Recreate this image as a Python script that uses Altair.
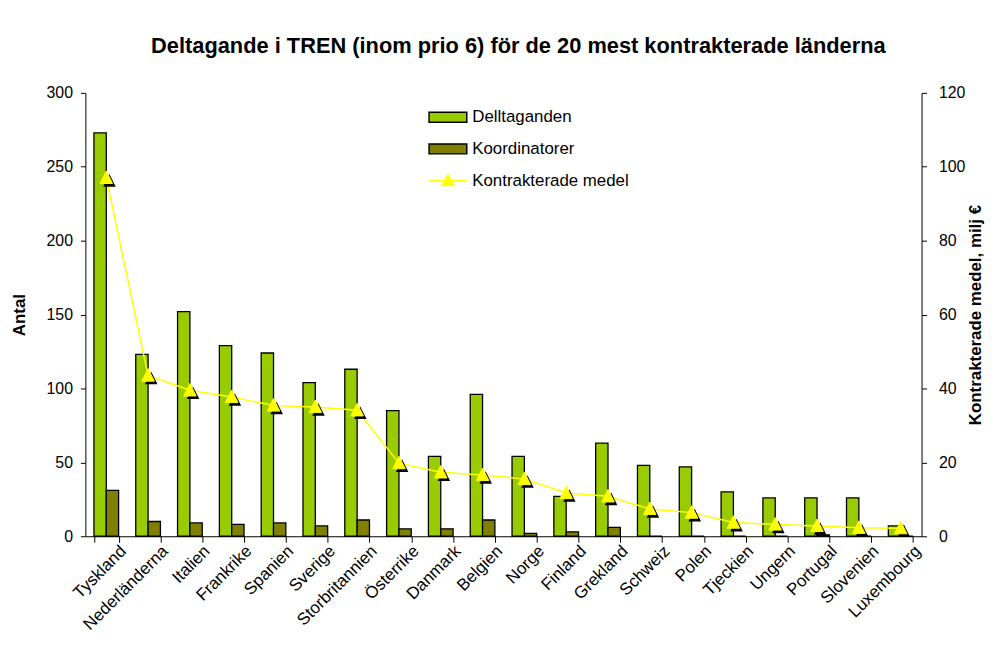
import altair as alt
import pandas as pd

countries = ["Tyskland", "Nederländerna", "Italien", "Frankrike", "Spanien", "Sverige",
             "Storbritannien", "Österrike", "Danmark", "Belgien", "Norge", "Finland",
             "Grekland", "Schweiz", "Polen", "Tjeckien", "Ungern", "Portugal",
             "Slovenien", "Luxembourg"]
deltaganden = [273, 123, 152, 129, 124, 104, 113, 85, 54, 96, 54, 27, 63, 48, 47, 30, 26, 26, 26, 7]
koordinatorer = [31, 10, 9, 8, 9, 7, 11, 5, 5, 11, 2, 3, 6, 0, 0, 0, 0, 1, 0, 0]
medel = [97, 43.5, 39.5, 37.7, 35.4, 35, 34.1, 19.8, 17.3, 16.6, 15.5, 11.7, 10.8, 7.4, 6.4,
         3.7, 3.2, 2.8, 2.3, 2.2]

series_names = ["Delltaganden", "Koordinatorer", "Kontrakterade medel"]
series_fill = ["#99CC00", "#808000", "#FFFF00"]
series_stroke = ["#000000", "#000000", "#FFFF00"]
left_ticks = [0, 50, 100, 150, 200, 250, 300]
right_ticks = [0, 20, 40, 60, 80, 100, 120]

FONT = "Liberation Sans"

bars_df = pd.DataFrame({
    "land": countries * 2,
    "serie": [series_names[0]] * len(countries) + [series_names[1]] * len(countries),
    "antal": deltaganden + koordinatorer,
})
line_df = pd.DataFrame({"land": countries, "medel": medel})
legend_df = pd.DataFrame({"serie": series_names})

RECT = "M-1,-1H6.6V1H-1Z"
LINE_TRI = "M-1,0H6.6M1.6,1L2.8,-1.2L4,1Z"
TRI = "M-1,0.9L0,-1.1L1,0.9Z"
SHADOW = "M-0.5,1.4L0.5,-0.6L1.5,1.4Z"

x_enc = alt.X(
    "land:N", sort=countries, title=None,
    scale=alt.Scale(paddingInner=0.41, paddingOuter=0.205),
    axis=alt.Axis(labelAngle=-45, labelAlign="right", labelBaseline="middle",
                  tickBand="extent", tickSize=6, labelPadding=6, labelOffset=17,
                  labelFontSize=17, labelFont=FONT),
)

fill_scale = alt.Scale(domain=series_names, range=series_fill)

leg = alt.Legend(title=None, orient="none", legendX=343, legendY=16,
                 symbolSize=100, symbolStrokeWidth=1.5, symbolOpacity=1,
                 labelFontSize=17, labelFont=FONT, labelOffset=30, rowPadding=14,
                 labelColor="black")

bars = alt.Chart(bars_df).mark_bar(stroke="black", strokeWidth=1.3).encode(
    x=x_enc,
    xOffset=alt.XOffset("serie:N", sort=series_names[:2],
                        scale=alt.Scale(domain=series_names[:2], paddingInner=0, paddingOuter=0)),
    y=alt.Y("antal:Q", scale=alt.Scale(domain=[0, 300]),
            axis=alt.Axis(values=left_ticks, title="Antal", titleFontSize=17,
                          titleFontWeight="bold", titlePadding=18, labelFontSize=16,
                          labelPadding=8, labelFont=FONT, titleFont=FONT, tickSize=5)),
    fill=alt.Fill("serie:N", scale=fill_scale, legend=leg),
)

y_right = alt.Y("medel:Q", scale=alt.Scale(domain=[0, 120]),
                axis=alt.Axis(orient="right", values=right_ticks,
                              title="Kontrakterade medel, milj €", titleAngle=270,
                              titleFontSize=17, titleFontWeight="bold", titlePadding=20,
                              labelFontSize=16, labelPadding=12, labelFont=FONT,
                              titleFont=FONT, tickSize=5))
y_right_noaxis = alt.Y("medel:Q", scale=alt.Scale(domain=[0, 120]), axis=None)

line = alt.Chart(line_df).mark_line(color="#FFFF00", strokeWidth=1.5).encode(
    x=x_enc, y=y_right)
shadow = alt.Chart(line_df).mark_point(shape=SHADOW, filled=True, color="black",
                                       size=160, opacity=1).encode(x=x_enc, y=y_right_noaxis)
tri = alt.Chart(line_df).mark_point(shape=TRI, filled=True, fill="#FFFF00",
                                    stroke="#FFFF00", strokeWidth=1, size=160,
                                    opacity=1).encode(x=x_enc, y=y_right_noaxis)

legend_layer = alt.Chart(legend_df).mark_point(filled=True, opacity=0).encode(
    fill=alt.Fill("serie:N", scale=fill_scale, legend=leg),
    stroke=alt.Stroke("serie:N", scale=alt.Scale(domain=series_names, range=series_stroke),
                      legend=leg),
    shape=alt.Shape("serie:N", scale=alt.Scale(domain=series_names,
                                                range=[RECT, RECT, LINE_TRI]),
                    legend=leg),
)

chart = alt.layer(bars, line, shadow, tri, legend_layer).resolve_scale(
    y="independent"
).properties(
    width=843, height=447,
    padding={"left": 78, "top": 83, "right": 70, "bottom": 100},
    autosize=alt.AutoSizeParams(type="none"),
    title=alt.Title("Deltagande i TREN (inom prio 6) för de 20 mest kontrakterade länderna",
                    fontSize=22, font=FONT, fontWeight="bold", anchor="middle",
                    frame="group", baseline="bottom", offset=5, dx=15, color="black"),
).configure_view(stroke=None).configure_axis(
    grid=False, domainColor="black", tickColor="black", labelColor="black",
    titleColor="black", domainWidth=1, tickWidth=1
)

chart.save("out.html", embed_options={"renderer": "svg", "actions": False})
